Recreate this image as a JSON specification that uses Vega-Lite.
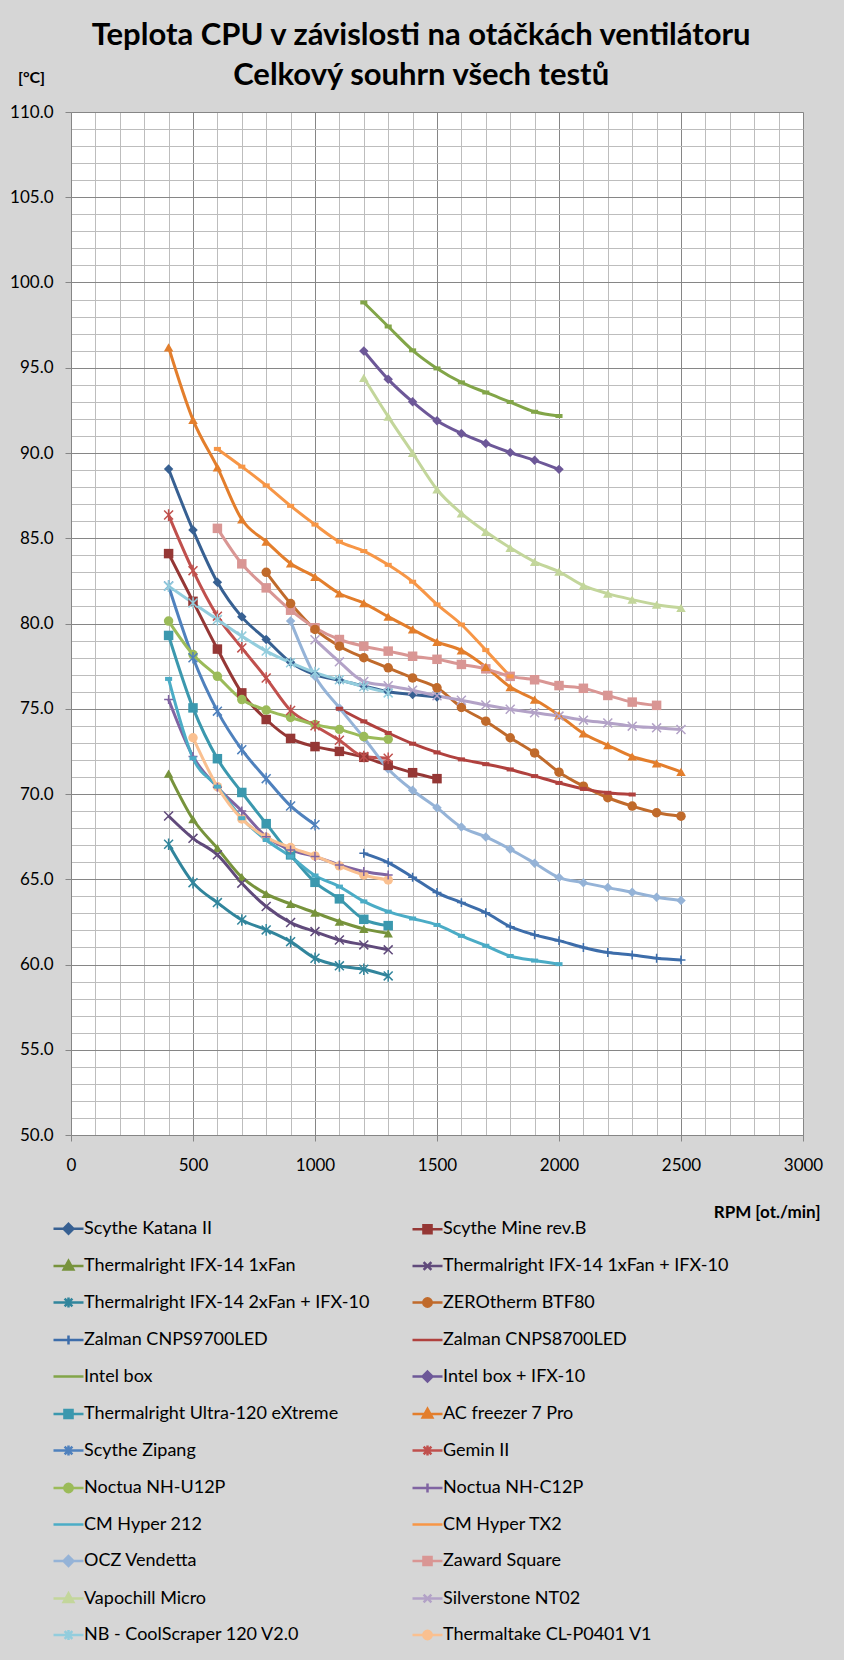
{
"$schema": "https://vega.github.io/schema/vega-lite/v6.json",
"width": 732, "height": 1023,
"autosize": {"type": "none"},
"padding": {"left": 71, "top": 112, "right": 41, "bottom": 525},
"background": "#D6D6D6",
"title": {"text": "Teplota CPU v závislosti na otáčkách ventilátoru", "subtitle": "Celkový souhrn všech testů", "anchor": "middle", "frame": "bounds", "font": "Lato", "fontSize": 31, "fontWeight": "bold", "color": "#000", "subtitleFont": "Lato", "subtitleFontSize": 31, "subtitleFontWeight": "bold", "subtitleColor": "#000", "subtitlePadding": 9, "offset": -23, "dx": 5},
"data": {"values": [
{"s":"Scythe Katana II","r":400,"t":89.06},{"s":"Scythe Katana II","r":500,"t":85.48},{"s":"Scythe Katana II","r":600,"t":82.42},{"s":"Scythe Katana II","r":700,"t":80.39},{"s":"Scythe Katana II","r":800,"t":79.06},{"s":"Scythe Katana II","r":900,"t":77.73},{"s":"Scythe Katana II","r":1000,"t":77.0},{"s":"Scythe Katana II","r":1100,"t":76.68},{"s":"Scythe Katana II","r":1200,"t":76.33},{"s":"Scythe Katana II","r":1300,"t":76.0},{"s":"Scythe Katana II","r":1400,"t":75.84},{"s":"Scythe Katana II","r":1500,"t":75.69},
{"s":"Scythe Mine rev.B","r":400,"t":84.1},{"s":"Scythe Mine rev.B","r":500,"t":81.3},{"s":"Scythe Mine rev.B","r":600,"t":78.5},{"s":"Scythe Mine rev.B","r":700,"t":75.93},{"s":"Scythe Mine rev.B","r":800,"t":74.37},{"s":"Scythe Mine rev.B","r":900,"t":73.26},{"s":"Scythe Mine rev.B","r":1000,"t":72.78},{"s":"Scythe Mine rev.B","r":1100,"t":72.5},{"s":"Scythe Mine rev.B","r":1200,"t":72.15},{"s":"Scythe Mine rev.B","r":1300,"t":71.68},{"s":"Scythe Mine rev.B","r":1400,"t":71.25},{"s":"Scythe Mine rev.B","r":1500,"t":70.9},
{"s":"Thermalright IFX-14 1xFan","r":400,"t":71.2},{"s":"Thermalright IFX-14 1xFan","r":500,"t":68.52},{"s":"Thermalright IFX-14 1xFan","r":600,"t":66.82},{"s":"Thermalright IFX-14 1xFan","r":700,"t":65.12},{"s":"Thermalright IFX-14 1xFan","r":800,"t":64.14},{"s":"Thermalright IFX-14 1xFan","r":900,"t":63.55},{"s":"Thermalright IFX-14 1xFan","r":1000,"t":63.04},{"s":"Thermalright IFX-14 1xFan","r":1100,"t":62.52},{"s":"Thermalright IFX-14 1xFan","r":1200,"t":62.09},{"s":"Thermalright IFX-14 1xFan","r":1300,"t":61.83},
{"s":"Thermalright IFX-14 1xFan + IFX-10","r":400,"t":68.71},{"s":"Thermalright IFX-14 1xFan + IFX-10","r":500,"t":67.4},{"s":"Thermalright IFX-14 1xFan + IFX-10","r":600,"t":66.43},{"s":"Thermalright IFX-14 1xFan + IFX-10","r":700,"t":64.77},{"s":"Thermalright IFX-14 1xFan + IFX-10","r":800,"t":63.4},{"s":"Thermalright IFX-14 1xFan + IFX-10","r":900,"t":62.46},{"s":"Thermalright IFX-14 1xFan + IFX-10","r":1000,"t":61.93},{"s":"Thermalright IFX-14 1xFan + IFX-10","r":1100,"t":61.44},{"s":"Thermalright IFX-14 1xFan + IFX-10","r":1200,"t":61.15},{"s":"Thermalright IFX-14 1xFan + IFX-10","r":1300,"t":60.86},
{"s":"Thermalright IFX-14 2xFan + IFX-10","r":400,"t":67.05},{"s":"Thermalright IFX-14 2xFan + IFX-10","r":500,"t":64.8},{"s":"Thermalright IFX-14 2xFan + IFX-10","r":600,"t":63.63},{"s":"Thermalright IFX-14 2xFan + IFX-10","r":700,"t":62.61},{"s":"Thermalright IFX-14 2xFan + IFX-10","r":800,"t":62.03},{"s":"Thermalright IFX-14 2xFan + IFX-10","r":900,"t":61.34},{"s":"Thermalright IFX-14 2xFan + IFX-10","r":1000,"t":60.37},{"s":"Thermalright IFX-14 2xFan + IFX-10","r":1100,"t":59.92},{"s":"Thermalright IFX-14 2xFan + IFX-10","r":1200,"t":59.72},{"s":"Thermalright IFX-14 2xFan + IFX-10","r":1300,"t":59.33},
{"s":"ZEROtherm BTF80","r":800,"t":83.0},{"s":"ZEROtherm BTF80","r":900,"t":81.17},{"s":"ZEROtherm BTF80","r":1000,"t":79.65},{"s":"ZEROtherm BTF80","r":1100,"t":78.67},{"s":"ZEROtherm BTF80","r":1200,"t":77.99},{"s":"ZEROtherm BTF80","r":1300,"t":77.4},{"s":"ZEROtherm BTF80","r":1400,"t":76.81},{"s":"ZEROtherm BTF80","r":1500,"t":76.23},{"s":"ZEROtherm BTF80","r":1600,"t":75.08},{"s":"ZEROtherm BTF80","r":1700,"t":74.27},{"s":"ZEROtherm BTF80","r":1800,"t":73.3},{"s":"ZEROtherm BTF80","r":1900,"t":72.41},{"s":"ZEROtherm BTF80","r":2000,"t":71.28},{"s":"ZEROtherm BTF80","r":2100,"t":70.46},{"s":"ZEROtherm BTF80","r":2200,"t":69.78},{"s":"ZEROtherm BTF80","r":2300,"t":69.29},{"s":"ZEROtherm BTF80","r":2400,"t":68.9},{"s":"ZEROtherm BTF80","r":2500,"t":68.7},
{"s":"Zalman CNPS9700LED","r":1200,"t":66.52},{"s":"Zalman CNPS9700LED","r":1300,"t":65.98},{"s":"Zalman CNPS9700LED","r":1400,"t":65.12},{"s":"Zalman CNPS9700LED","r":1500,"t":64.22},{"s":"Zalman CNPS9700LED","r":1600,"t":63.63},{"s":"Zalman CNPS9700LED","r":1700,"t":63.04},{"s":"Zalman CNPS9700LED","r":1800,"t":62.22},{"s":"Zalman CNPS9700LED","r":1900,"t":61.74},{"s":"Zalman CNPS9700LED","r":2000,"t":61.4},{"s":"Zalman CNPS9700LED","r":2100,"t":61.0},{"s":"Zalman CNPS9700LED","r":2200,"t":60.7},{"s":"Zalman CNPS9700LED","r":2300,"t":60.56},{"s":"Zalman CNPS9700LED","r":2400,"t":60.37},{"s":"Zalman CNPS9700LED","r":2500,"t":60.27},
{"s":"Zalman CNPS8700LED","r":1100,"t":75.0},{"s":"Zalman CNPS8700LED","r":1200,"t":74.26},{"s":"Zalman CNPS8700LED","r":1300,"t":73.58},{"s":"Zalman CNPS8700LED","r":1400,"t":72.95},{"s":"Zalman CNPS8700LED","r":1500,"t":72.44},{"s":"Zalman CNPS8700LED","r":1600,"t":72.03},{"s":"Zalman CNPS8700LED","r":1700,"t":71.75},{"s":"Zalman CNPS8700LED","r":1800,"t":71.44},{"s":"Zalman CNPS8700LED","r":1900,"t":71.05},{"s":"Zalman CNPS8700LED","r":2000,"t":70.65},{"s":"Zalman CNPS8700LED","r":2100,"t":70.3},{"s":"Zalman CNPS8700LED","r":2200,"t":70.07},{"s":"Zalman CNPS8700LED","r":2300,"t":69.97},
{"s":"Intel box","r":1200,"t":98.83},{"s":"Intel box","r":1300,"t":97.42},{"s":"Intel box","r":1400,"t":96.02},{"s":"Intel box","r":1500,"t":94.96},{"s":"Intel box","r":1600,"t":94.14},{"s":"Intel box","r":1700,"t":93.55},{"s":"Intel box","r":1800,"t":92.99},{"s":"Intel box","r":1900,"t":92.42},{"s":"Intel box","r":2000,"t":92.17},
{"s":"Intel box + IFX-10","r":1200,"t":95.98},{"s":"Intel box + IFX-10","r":1300,"t":94.32},{"s":"Intel box + IFX-10","r":1400,"t":93.0},{"s":"Intel box + IFX-10","r":1500,"t":91.89},{"s":"Intel box + IFX-10","r":1600,"t":91.15},{"s":"Intel box + IFX-10","r":1700,"t":90.56},{"s":"Intel box + IFX-10","r":1800,"t":90.03},{"s":"Intel box + IFX-10","r":1900,"t":89.57},{"s":"Intel box + IFX-10","r":2000,"t":89.04},
{"s":"Thermalright Ultra-120 eXtreme","r":400,"t":79.3},{"s":"Thermalright Ultra-120 eXtreme","r":500,"t":75.05},{"s":"Thermalright Ultra-120 eXtreme","r":600,"t":72.07},{"s":"Thermalright Ultra-120 eXtreme","r":700,"t":70.09},{"s":"Thermalright Ultra-120 eXtreme","r":800,"t":68.26},{"s":"Thermalright Ultra-120 eXtreme","r":900,"t":66.43},{"s":"Thermalright Ultra-120 eXtreme","r":1000,"t":64.82},{"s":"Thermalright Ultra-120 eXtreme","r":1100,"t":63.85},{"s":"Thermalright Ultra-120 eXtreme","r":1200,"t":62.65},{"s":"Thermalright Ultra-120 eXtreme","r":1300,"t":62.28},
{"s":"AC freezer 7 Pro","r":400,"t":96.2},{"s":"AC freezer 7 Pro","r":500,"t":91.94},{"s":"AC freezer 7 Pro","r":600,"t":89.16},{"s":"AC freezer 7 Pro","r":700,"t":86.1},{"s":"AC freezer 7 Pro","r":800,"t":84.8},{"s":"AC freezer 7 Pro","r":900,"t":83.52},{"s":"AC freezer 7 Pro","r":1000,"t":82.74},{"s":"AC freezer 7 Pro","r":1100,"t":81.76},{"s":"AC freezer 7 Pro","r":1200,"t":81.2},{"s":"AC freezer 7 Pro","r":1300,"t":80.4},{"s":"AC freezer 7 Pro","r":1400,"t":79.65},{"s":"AC freezer 7 Pro","r":1500,"t":78.92},{"s":"AC freezer 7 Pro","r":1600,"t":78.42},{"s":"AC freezer 7 Pro","r":1700,"t":77.45},{"s":"AC freezer 7 Pro","r":1800,"t":76.27},{"s":"AC freezer 7 Pro","r":1900,"t":75.54},{"s":"AC freezer 7 Pro","r":2000,"t":74.62},{"s":"AC freezer 7 Pro","r":2100,"t":73.55},{"s":"AC freezer 7 Pro","r":2200,"t":72.86},{"s":"AC freezer 7 Pro","r":2300,"t":72.2},{"s":"AC freezer 7 Pro","r":2400,"t":71.8},{"s":"AC freezer 7 Pro","r":2500,"t":71.3},
{"s":"Scythe Zipang","r":400,"t":82.2},{"s":"Scythe Zipang","r":500,"t":77.99},{"s":"Scythe Zipang","r":600,"t":74.86},{"s":"Scythe Zipang","r":700,"t":72.6},{"s":"Scythe Zipang","r":800,"t":70.9},{"s":"Scythe Zipang","r":900,"t":69.3},{"s":"Scythe Zipang","r":1000,"t":68.2},
{"s":"Gemin II","r":400,"t":86.36},{"s":"Gemin II","r":500,"t":83.1},{"s":"Gemin II","r":600,"t":80.43},{"s":"Gemin II","r":700,"t":78.57},{"s":"Gemin II","r":800,"t":76.8},{"s":"Gemin II","r":900,"t":74.9},{"s":"Gemin II","r":1000,"t":74.0},{"s":"Gemin II","r":1100,"t":73.15},{"s":"Gemin II","r":1200,"t":72.2},{"s":"Gemin II","r":1300,"t":72.1},
{"s":"Noctua NH-U12P","r":400,"t":80.14},{"s":"Noctua NH-U12P","r":500,"t":78.18},{"s":"Noctua NH-U12P","r":600,"t":76.9},{"s":"Noctua NH-U12P","r":700,"t":75.54},{"s":"Noctua NH-U12P","r":800,"t":74.92},{"s":"Noctua NH-U12P","r":900,"t":74.49},{"s":"Noctua NH-U12P","r":1000,"t":74.07},{"s":"Noctua NH-U12P","r":1100,"t":73.79},{"s":"Noctua NH-U12P","r":1200,"t":73.37},{"s":"Noctua NH-U12P","r":1300,"t":73.21},
{"s":"Noctua NH-C12P","r":400,"t":75.54},{"s":"Noctua NH-C12P","r":500,"t":72.2},{"s":"Noctua NH-C12P","r":600,"t":70.4},{"s":"Noctua NH-C12P","r":700,"t":69.0},{"s":"Noctua NH-C12P","r":800,"t":67.5},{"s":"Noctua NH-C12P","r":900,"t":66.72},{"s":"Noctua NH-C12P","r":1000,"t":66.33},{"s":"Noctua NH-C12P","r":1100,"t":65.84},{"s":"Noctua NH-C12P","r":1200,"t":65.45},{"s":"Noctua NH-C12P","r":1300,"t":65.25},
{"s":"CM Hyper 212","r":400,"t":76.75},{"s":"CM Hyper 212","r":500,"t":72.1},{"s":"CM Hyper 212","r":600,"t":70.43},{"s":"CM Hyper 212","r":700,"t":68.58},{"s":"CM Hyper 212","r":800,"t":67.3},{"s":"CM Hyper 212","r":900,"t":66.33},{"s":"CM Hyper 212","r":1000,"t":65.22},{"s":"CM Hyper 212","r":1100,"t":64.57},{"s":"CM Hyper 212","r":1200,"t":63.7},{"s":"CM Hyper 212","r":1300,"t":63.1},{"s":"CM Hyper 212","r":1400,"t":62.7},{"s":"CM Hyper 212","r":1500,"t":62.32},{"s":"CM Hyper 212","r":1600,"t":61.68},{"s":"CM Hyper 212","r":1700,"t":61.1},{"s":"CM Hyper 212","r":1800,"t":60.5},{"s":"CM Hyper 212","r":1900,"t":60.23},{"s":"CM Hyper 212","r":2000,"t":60.02},
{"s":"CM Hyper TX2","r":600,"t":90.24},{"s":"CM Hyper TX2","r":700,"t":89.2},{"s":"CM Hyper TX2","r":800,"t":88.1},{"s":"CM Hyper TX2","r":900,"t":86.9},{"s":"CM Hyper TX2","r":1000,"t":85.8},{"s":"CM Hyper TX2","r":1100,"t":84.8},{"s":"CM Hyper TX2","r":1200,"t":84.25},{"s":"CM Hyper TX2","r":1300,"t":83.44},{"s":"CM Hyper TX2","r":1400,"t":82.45},{"s":"CM Hyper TX2","r":1500,"t":81.12},{"s":"CM Hyper TX2","r":1600,"t":79.94},{"s":"CM Hyper TX2","r":1700,"t":78.44},{"s":"CM Hyper TX2","r":1800,"t":76.9},
{"s":"OCZ Vendetta","r":900,"t":80.14},{"s":"OCZ Vendetta","r":1000,"t":76.9},{"s":"OCZ Vendetta","r":1100,"t":75.05},{"s":"OCZ Vendetta","r":1200,"t":73.3},{"s":"OCZ Vendetta","r":1300,"t":71.47},{"s":"OCZ Vendetta","r":1400,"t":70.22},{"s":"OCZ Vendetta","r":1500,"t":69.19},{"s":"OCZ Vendetta","r":1600,"t":68.06},{"s":"OCZ Vendetta","r":1700,"t":67.48},{"s":"OCZ Vendetta","r":1800,"t":66.76},{"s":"OCZ Vendetta","r":1900,"t":65.94},{"s":"OCZ Vendetta","r":2000,"t":65.1},{"s":"OCZ Vendetta","r":2100,"t":64.8},{"s":"OCZ Vendetta","r":2200,"t":64.51},{"s":"OCZ Vendetta","r":2300,"t":64.24},{"s":"OCZ Vendetta","r":2400,"t":63.94},{"s":"OCZ Vendetta","r":2500,"t":63.75},
{"s":"Zaward Square","r":600,"t":85.58},{"s":"Zaward Square","r":700,"t":83.5},{"s":"Zaward Square","r":800,"t":82.09},{"s":"Zaward Square","r":900,"t":80.78},{"s":"Zaward Square","r":1000,"t":79.75},{"s":"Zaward Square","r":1100,"t":79.06},{"s":"Zaward Square","r":1200,"t":78.67},{"s":"Zaward Square","r":1300,"t":78.38},{"s":"Zaward Square","r":1400,"t":78.08},{"s":"Zaward Square","r":1500,"t":77.9},{"s":"Zaward Square","r":1600,"t":77.6},{"s":"Zaward Square","r":1700,"t":77.34},{"s":"Zaward Square","r":1800,"t":76.9},{"s":"Zaward Square","r":1900,"t":76.7},{"s":"Zaward Square","r":2000,"t":76.36},{"s":"Zaward Square","r":2100,"t":76.2},{"s":"Zaward Square","r":2200,"t":75.78},{"s":"Zaward Square","r":2300,"t":75.39},{"s":"Zaward Square","r":2400,"t":75.2},
{"s":"Vapochill Micro","r":1200,"t":94.41},{"s":"Vapochill Micro","r":1300,"t":92.13},{"s":"Vapochill Micro","r":1400,"t":90.0},{"s":"Vapochill Micro","r":1500,"t":87.86},{"s":"Vapochill Micro","r":1600,"t":86.46},{"s":"Vapochill Micro","r":1700,"t":85.38},{"s":"Vapochill Micro","r":1800,"t":84.44},{"s":"Vapochill Micro","r":1900,"t":83.62},{"s":"Vapochill Micro","r":2000,"t":83.04},{"s":"Vapochill Micro","r":2100,"t":82.22},{"s":"Vapochill Micro","r":2200,"t":81.75},{"s":"Vapochill Micro","r":2300,"t":81.4},{"s":"Vapochill Micro","r":2400,"t":81.1},{"s":"Vapochill Micro","r":2500,"t":80.92},
{"s":"Silverstone NT02","r":1000,"t":79.05},{"s":"Silverstone NT02","r":1100,"t":77.75},{"s":"Silverstone NT02","r":1200,"t":76.6},{"s":"Silverstone NT02","r":1300,"t":76.35},{"s":"Silverstone NT02","r":1400,"t":76.09},{"s":"Silverstone NT02","r":1500,"t":75.76},{"s":"Silverstone NT02","r":1600,"t":75.5},{"s":"Silverstone NT02","r":1700,"t":75.22},{"s":"Silverstone NT02","r":1800,"t":74.97},{"s":"Silverstone NT02","r":1900,"t":74.76},{"s":"Silverstone NT02","r":2000,"t":74.57},{"s":"Silverstone NT02","r":2100,"t":74.33},{"s":"Silverstone NT02","r":2200,"t":74.17},{"s":"Silverstone NT02","r":2300,"t":73.98},{"s":"Silverstone NT02","r":2400,"t":73.88},{"s":"Silverstone NT02","r":2500,"t":73.78},
{"s":"NB - CoolScraper 120 V2.0","r":400,"t":82.19},{"s":"NB - CoolScraper 120 V2.0","r":500,"t":81.2},{"s":"NB - CoolScraper 120 V2.0","r":600,"t":80.23},{"s":"NB - CoolScraper 120 V2.0","r":700,"t":79.26},{"s":"NB - CoolScraper 120 V2.0","r":800,"t":78.38},{"s":"NB - CoolScraper 120 V2.0","r":900,"t":77.7},{"s":"NB - CoolScraper 120 V2.0","r":1000,"t":77.12},{"s":"NB - CoolScraper 120 V2.0","r":1100,"t":76.7},{"s":"NB - CoolScraper 120 V2.0","r":1200,"t":76.3},{"s":"NB - CoolScraper 120 V2.0","r":1300,"t":75.93},
{"s":"Thermaltake CL-P0401 V1","r":500,"t":73.3},{"s":"Thermaltake CL-P0401 V1","r":600,"t":70.43},{"s":"Thermaltake CL-P0401 V1","r":700,"t":68.54},{"s":"Thermaltake CL-P0401 V1","r":800,"t":67.46},{"s":"Thermaltake CL-P0401 V1","r":900,"t":66.86},{"s":"Thermaltake CL-P0401 V1","r":1000,"t":66.37},{"s":"Thermaltake CL-P0401 V1","r":1100,"t":65.78},{"s":"Thermaltake CL-P0401 V1","r":1200,"t":65.25},{"s":"Thermaltake CL-P0401 V1","r":1300,"t":64.96}
]},
"encoding": {
 "x": {"field": "r", "type": "quantitative", "scale": {"domain": [0, 3000], "nice": false, "zero": false},
  "axis": {"values": [0,100,200,300,400,500,600,700,800,900,1000,1100,1200,1300,1400,1500,1600,1700,1800,1900,2000,2100,2200,2300,2400,2500,2600,2700,2800,2900,3000],
   "labelExpr": "datum.value % 500 === 0 ? format(datum.value, 'd') : ''",
   "gridColor": {"condition": {"test": "datum.value % 500 === 0", "value": "#868686"}, "value": "#BDBDBD"},
   "tickColor": {"condition": {"test": "datum.value % 500 === 0", "value": "#868686"}, "value": "transparent"},
   "labelFlush": false, "labelPadding": 16,
   "title": "RPM [ot./min]", "titleX": 749, "titleY": 77, "titleAlign": "right", "titleBaseline": "middle"}},
 "y": {"field": "t", "type": "quantitative", "scale": {"domain": [50, 110], "nice": false, "zero": false},
  "axis": {"values": [50,51,52,53,54,55,56,57,58,59,60,61,62,63,64,65,66,67,68,69,70,71,72,73,74,75,76,77,78,79,80,81,82,83,84,85,86,87,88,89,90,91,92,93,94,95,96,97,98,99,100,101,102,103,104,105,106,107,108,109,110],
   "labelExpr": "datum.value % 5 === 0 ? format(datum.value, '.1f') : ''",
   "gridColor": {"condition": {"test": "datum.value % 5 === 0", "value": "#868686"}, "value": "#BDBDBD"},
   "tickColor": {"condition": {"test": "datum.value % 5 === 0", "value": "#868686"}, "value": "transparent"},
   "labelPadding": 12,
   "title": "[°C]", "titleAngle": 0, "titleX": -40, "titleY": -35, "titleAlign": "center", "titleBaseline": "middle", "titleFontSize": 16}},
 "color": {"field": "s", "type": "nominal",
   "scale": {"domain": ["Scythe Katana II","Scythe Mine rev.B","Thermalright IFX-14 1xFan","Thermalright IFX-14 1xFan + IFX-10","Thermalright IFX-14 2xFan + IFX-10","ZEROtherm BTF80","Zalman CNPS9700LED","Zalman CNPS8700LED","Intel box","Intel box + IFX-10","Thermalright Ultra-120 eXtreme","AC freezer 7 Pro","Scythe Zipang","Gemin II","Noctua NH-U12P","Noctua NH-C12P","CM Hyper 212","CM Hyper TX2","OCZ Vendetta","Zaward Square","Vapochill Micro","Silverstone NT02","NB - CoolScraper 120 V2.0","Thermaltake CL-P0401 V1"],
    "range": ["#376092","#953735","#77933C","#604A7B","#31859C","#C06A2B","#3D6DAA","#B0413E","#82A548","#6D5898","#3B98AE","#E37E2C","#4F81BD","#C0504D","#9BBB59","#8064A2","#4BACC6","#F79646","#95B3D7","#D99694","#C3D69B","#B3A2C7","#93CDDD","#FAC090"]},
   "legend": null}
},
"layer": [
 {"mark": {"type": "line", "strokeWidth": 3, "interpolate": "monotone"},
  "encoding": {"color": {"field": "s", "type": "nominal",
   "legend": {"title": null, "orient": "none", "legendX": -19, "legendY": 1100, "direction": "horizontal", "columns": 2, "columnPadding": 37, "rowPadding": 10.5, "symbolSize": 900, "symbolStrokeWidth": 3, "symbolType": "stroke", "labelFont": "Lato", "labelFontSize": 18, "labelColor": "#000", "labelLimit": 400, "labelOffset": -1,
    "encoding": {"symbols": {
     "shape": {"value": {"expr": "'M-1,0H1' + ['M0,-0.33L0.33,0L0,0.33L-0.33,0Z','M-0.27,-0.27H0.27V0.27H-0.27Z','M0,-0.34L0.32,0.24H-0.32Z','M-0.26,-0.26L0.26,0.26M-0.26,0.26L0.26,-0.26','M-0.26,-0.26L0.26,0.26M-0.26,0.26L0.26,-0.26M0,-0.34V0.34','M-0.28,0A0.28,0.28,0,1,0,0.28,0A0.28,0.28,0,1,0,-0.28,0Z','M0,-0.3V0.3','','','M0,-0.33L0.33,0L0,0.33L-0.33,0Z','M-0.27,-0.27H0.27V0.27H-0.27Z','M0,-0.34L0.32,0.24H-0.32Z','M-0.26,-0.26L0.26,0.26M-0.26,0.26L0.26,-0.26M0,-0.34V0.34','M-0.26,-0.26L0.26,0.26M-0.26,0.26L0.26,-0.26M0,-0.34V0.34','M-0.28,0A0.28,0.28,0,1,0,0.28,0A0.28,0.28,0,1,0,-0.28,0Z','M0,-0.3V0.3','','','M0,-0.33L0.33,0L0,0.33L-0.33,0Z','M-0.27,-0.27H0.27V0.27H-0.27Z','M0,-0.34L0.32,0.24H-0.32Z','M-0.26,-0.26L0.26,0.26M-0.26,0.26L0.26,-0.26','M-0.26,-0.26L0.26,0.26M-0.26,0.26L0.26,-0.26M0,-0.34V0.34','M-0.28,0A0.28,0.28,0,1,0,0.28,0A0.28,0.28,0,1,0,-0.28,0Z'][indexof(['Scythe Katana II','Scythe Mine rev.B','Thermalright IFX-14 1xFan','Thermalright IFX-14 1xFan + IFX-10','Thermalright IFX-14 2xFan + IFX-10','ZEROtherm BTF80','Zalman CNPS9700LED','Zalman CNPS8700LED','Intel box','Intel box + IFX-10','Thermalright Ultra-120 eXtreme','AC freezer 7 Pro','Scythe Zipang','Gemin II','Noctua NH-U12P','Noctua NH-C12P','CM Hyper 212','CM Hyper TX2','OCZ Vendetta','Zaward Square','Vapochill Micro','Silverstone NT02','NB - CoolScraper 120 V2.0','Thermaltake CL-P0401 V1'], datum.value)]"}},
     "fill": {"value": {"expr": "scale('color', datum.value)"}},
     "stroke": {"value": {"expr": "scale('color', datum.value)"}},
     "strokeWidth": {"value": 2.5},
     "opacity": {"value": 1}}}}}}},
 {"transform": [{"filter": {"field": "s", "oneOf": ["Scythe Katana II","Intel box + IFX-10","OCZ Vendetta"]}}],
  "mark": {"type": "point", "shape": "diamond", "filled": true, "size": 90, "opacity": 1}},
 {"transform": [{"filter": {"field": "s", "oneOf": ["Scythe Mine rev.B","Thermalright Ultra-120 eXtreme","Zaward Square"]}}],
  "mark": {"type": "point", "shape": "square", "filled": true, "size": 90, "opacity": 1}},
 {"transform": [{"filter": {"field": "s", "oneOf": ["Thermalright IFX-14 1xFan","AC freezer 7 Pro","Vapochill Micro"]}}],
  "mark": {"type": "point", "shape": "triangle-up", "filled": true, "size": 90, "opacity": 1}},
 {"transform": [{"filter": {"field": "s", "oneOf": ["ZEROtherm BTF80","Noctua NH-U12P","Thermaltake CL-P0401 V1"]}}],
  "mark": {"type": "point", "shape": "circle", "filled": true, "size": 90, "opacity": 1}},
 {"transform": [{"filter": {"field": "s", "oneOf": ["Thermalright IFX-14 1xFan + IFX-10","Silverstone NT02"]}}],
  "mark": {"type": "point", "shape": "M-1,-1L1,1M-1,1L1,-1", "filled": false, "size": 80, "strokeWidth": 1.5, "opacity": 1}},
 {"transform": [{"filter": {"field": "s", "oneOf": ["Thermalright IFX-14 2xFan + IFX-10","Scythe Zipang","Gemin II","NB - CoolScraper 120 V2.0"]}}],
  "mark": {"type": "point", "shape": "M-1,-1L1,1M-1,1L1,-1M0,-1.3V1.3", "filled": false, "size": 80, "strokeWidth": 1.5, "opacity": 1}},
 {"transform": [{"filter": {"field": "s", "oneOf": ["Zalman CNPS9700LED","Noctua NH-C12P"]}}],
  "mark": {"type": "point", "shape": "M-1,0H1M0,-1V1", "filled": false, "size": 80, "strokeWidth": 1.5, "opacity": 1}},
 {"transform": [{"filter": {"field": "s", "oneOf": ["Zalman CNPS8700LED","Intel box","CM Hyper 212","CM Hyper TX2"]}}],
  "mark": {"type": "point", "shape": "M-1,0H1", "filled": false, "size": 50, "strokeWidth": 4, "opacity": 1}}
],
"config": {
 "font": "Lato",
 "view": {"fill": "white", "stroke": null},
 "axis": {"labelFont": "Lato", "labelFontSize": 17, "labelColor": "#000", "domainColor": "#868686", "tickSize": 6, "labelOverlap": false, "titleFont": "Lato", "titleFontWeight": "bold", "titleFontSize": 17, "titleColor": "#000"}
}
}
